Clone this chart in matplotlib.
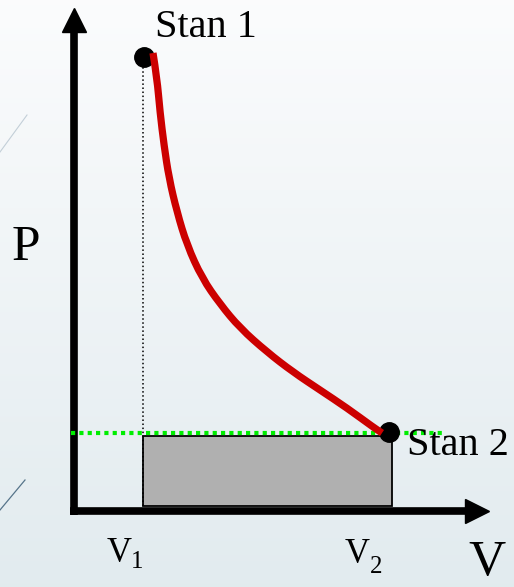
import numpy as np
import matplotlib
matplotlib.use("Agg")
import matplotlib.pyplot as plt
from matplotlib.patches import Rectangle, PathPatch
from matplotlib.path import Path

# isothermal expansion: state 1 -> state 2 (arbitrary units)
curve_v = [1.58, 1.66, 1.72, 1.80, 1.90, 2.06, 2.26, 2.56, 2.92, 3.32,
           3.86, 4.38, 4.92, 5.46, 5.98, 6.16]
curve_p = [9.16, 8.66, 7.98, 7.32, 6.66, 5.98, 5.32, 4.66, 4.14, 3.66,
           3.18, 2.78, 2.42, 2.06, 1.68, 1.56]
state_v = [1.40, 6.30]
state_p = [9.08, 1.58]
state_labels = ["Stan 1", "Stan 2"]
v1, v2 = 1.38, 6.36
p2 = 1.54
axis_labels = ["P", "V"]
tick_labels = ["V", "V"]
tick_subs = ["1", "2"]

serif = "Liberation Serif"


def smooth_path(xs, ys):
    # quadratic bezier through midpoints, read points act as control points
    pts = np.column_stack([xs, ys])
    verts = [pts[0]]
    codes = [Path.MOVETO]
    for i in range(1, len(pts) - 1):
        mid = (pts[i] + pts[i + 1]) / 2
        verts += [pts[i], mid]
        codes += [Path.CURVE3, Path.CURVE3]
    verts.append(pts[-1])
    codes.append(Path.LINETO)
    return Path(verts, codes)


fig = plt.figure(figsize=(5.14, 5.87), dpi=100)
ax = fig.add_axes([0, 0, 1, 1])
xlim = (-1.48, 8.80)
ylim = (-1.52, 10.22)
ax.set_xlim(xlim)
ax.set_ylim(ylim)
ax.axis("off")

# background gradient (light at top, blue-grey at bottom)
grad = np.linspace(0, 1, 256).reshape(-1, 1)
top = np.array([0.985, 0.988, 0.992])
bot = np.array([0.886, 0.922, 0.937])
img = top + (bot - top) * grad[:, :, None]
ax.imshow(img, extent=(*xlim, *ylim), aspect="auto", zorder=0, origin="upper")

# faint decorative strokes on the left
ax.plot([-1.48, -0.94], [7.18, 7.92], color="#c3cfd8", lw=0.8, zorder=1)
ax.plot([-1.48, -0.98], [0.02, 0.62], color="#56748a", lw=0.9, zorder=1)

# axes with arrows
ax.plot([0, 0], [-0.08, 9.6], color="black", lw=5.5, solid_capstyle="butt", zorder=3)
ax.plot([0], [9.82], marker="^", ms=17.5, color="black", zorder=3)
ax.plot([-0.08, 7.9], [0, 0], color="black", lw=5.5, solid_capstyle="butt", zorder=3)
ax.plot([8.06], [0], marker=">", ms=17.0, color="black", zorder=3)

# work area under the curve
ax.add_patch(Rectangle((v1, 0.1), v2 - v1, p2 - 0.14, facecolor="#b0b0b0",
                       edgecolor="black", lw=1.3, zorder=2))
ax.plot([v1, v1], [0.1, state_p[0] - 0.2], color="black", lw=1.1, ls=":", zorder=2)
ax.plot([-0.06, 7.38], [p2 + 0.02, p2 + 0.02], color="#00ee00", lw=3,
        dashes=(1, 1), zorder=4)

# states and process curve
ax.plot(state_v, state_p, "o", color="black", ms=14, zorder=5)
ax.add_patch(PathPatch(smooth_path(curve_v, curve_p), fill=False,
                       edgecolor="#cc0000", lw=5.2, capstyle="butt",
                       joinstyle="round", zorder=6))

ax.text(1.62, 9.48, state_labels[0], family=serif, fontsize=29, ha="left",
        va="baseline", zorder=7)
ax.text(6.66, 1.12, state_labels[1], family=serif, fontsize=29, ha="left",
        va="baseline", zorder=7)

ax.text(-1.24, 5.02, axis_labels[0], family=serif, fontsize=37, ha="left",
        va="baseline", zorder=7)
ax.text(7.88, -1.51, axis_labels[1], family=serif, fontsize=37, ha="left",
        va="bottom", zorder=7)

ax.text(0.66, -1.02, tick_labels[0], family=serif, fontsize=25, ha="left",
        va="baseline", zorder=7)
ax.text(1.14, -1.14, tick_subs[0], family=serif, fontsize=18, ha="left",
        va="baseline", zorder=7)
ax.text(5.42, -1.04, tick_labels[1], family=serif, fontsize=25, ha="left",
        va="baseline", zorder=7)
ax.text(5.92, -1.24, tick_subs[1], family=serif, fontsize=18, ha="left",
        va="baseline", zorder=7)

fig.savefig("out.png", dpi=100)
